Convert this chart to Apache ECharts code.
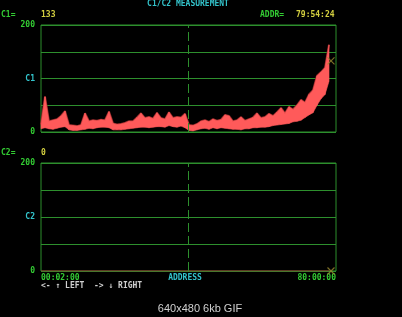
<!DOCTYPE html>
<html><head><meta charset="utf-8">
<script src="https://cdn.jsdelivr.net/npm/echarts@6/dist/echarts.min.js"></script>
<style>html,body{margin:0;padding:0;background:#000;}#c{width:402px;height:317px;}</style>
</head><body><div id="c"></div>
<script>
// C1 trace envelope: lower and upper edge of the noisy trace, one pair per sample (0..72)
var c1Low = [
  6, 8, 6, 5, 7, 9, 10, 4, 3, 3,
  4, 5, 7, 6, 8, 9, 9, 8, 4, 4,
  4, 5, 6, 7, 8, 9, 9, 8, 9, 10,
  10, 9, 12, 10, 9, 11, 8, 3, 2, 4,
  6, 7, 5, 8, 6, 8, 7, 6, 5, 5,
  4, 6, 6, 8, 8, 9, 9, 10, 12, 13,
  14, 15, 16, 19, 20, 22, 27, 32, 36, 50,
  62, 70, 95
];
var c1High = [
  14, 66, 20, 22, 24, 30, 39, 13, 12, 11,
  13, 35, 20, 22, 21, 23, 22, 38, 16, 14,
  15, 17, 20, 20, 27, 35, 26, 28, 25, 36,
  26, 24, 37, 26, 28, 27, 34, 13, 12, 15,
  20, 22, 19, 24, 21, 23, 32, 30, 20, 22,
  28, 21, 24, 27, 35, 26, 28, 34, 30, 37,
  45, 35, 47, 42, 50, 60, 55, 70, 78, 105,
  112, 120, 163
];
// C2 trace (flat at zero)
var c2Index = [0, 18, 36, 54, 72];
var c2 = [0, 0, 0, 0, 0];
var yTicks = [0, 50, 100, 150, 200];
var c1Reading = 133;
var c2Reading = 0;
var cursorIndex = 72.5;
var addrReading = '79:54:24';
var addrStart = '00:02:00';
var addrEnd = '80:00:00';

var GREEN = '#33cc33', CYAN = '#33c4cc', YELLOW = '#d4d040', GRID = '#2d8f2d';
var FONT = 'DejaVu Sans Mono';
var XMAX = 73.75;

var bandData = [];
for (var i = 0; i < c1Low.length - 1; i++) {
  bandData.push([i, c1Low[i], c1High[i], c1Low[i + 1], c1High[i + 1]]);
}
var highData = c1High.map(function(v, i){ return [i, v]; });
var c2Data = c2.map(function(v, i){ return [c2Index[i], v]; });
var xPath = 'path://M0,0L10,10M10,0L0,10';

function yAx(gi, name){
  return {
    type: 'value', gridIndex: gi, min: 0, max: 200, interval: 50,
    axisLine: {show: false}, axisTick: {show: false},
    splitLine: {show: true, lineStyle: {color: GRID, width: 1}},
    axisLabel: {
      margin: 6, fontFamily: FONT, fontSize: 8, fontWeight: 'bold',
      formatter: function(v){
        if (v === 200 || v === 0) return '{g|' + v + '}';
        if (v === 100) return '{c|' + name + '}';
        return '';
      },
      rich: {
        g: {color: GREEN, fontFamily: FONT, fontSize: 8, fontWeight: 'bold'},
        c: {color: CYAN, fontFamily: FONT, fontSize: 8, fontWeight: 'bold'}
      }
    }
  };
}
function xAx(gi){
  return {
    type: 'value', gridIndex: gi, min: 0, max: XMAX,
    axisLine: {show: false}, axisTick: {show: false},
    axisLabel: {show: false}, splitLine: {show: false}
  };
}
var centerLine = {
  silent: true, symbol: 'none', label: {show: false},
  lineStyle: {color: GRID, type: [9, 4], width: 1},
  data: [{xAxis: XMAX / 2}]
};
function txt(x, y, s, color, align){
  return {type: 'text', x: x, y: y,
    style: {text: s, fill: color, font: 'bold 8px "' + FONT + '"',
      textAlign: align || 'left', textVerticalAlign: 'middle'}};
}
var markerStyle = {color: 'none', borderColor: '#9a8a30', borderWidth: 1.2};

var chart = echarts.init(document.getElementById('c'), null, {renderer: 'canvas'});
chart.setOption({
  backgroundColor: '#000',
  animation: false,
  grid: [
    {left: 41, top: 25, width: 295, height: 107, show: true, borderColor: GRID, borderWidth: 1},
    {left: 41, top: 163, width: 295, height: 108, show: true, borderColor: GRID, borderWidth: 1}
  ],
  xAxis: [xAx(0), xAx(1)],
  yAxis: [yAx(0, 'C1'), yAx(1, 'C2')],
  series: [
    {type: 'line', xAxisIndex: 0, yAxisIndex: 0, data: highData, showSymbol: false,
     lineStyle: {color: '#8a2626', width: 2}, markLine: centerLine, z: 2},
    {type: 'custom', xAxisIndex: 0, yAxisIndex: 0, data: bandData, z: 3,
     encode: {x: 0, y: [1, 2, 3, 4]},
     renderItem: function(params, api){
       var x0 = api.value(0), x1 = x0 + 1;
       var a = api.coord([x0, api.value(1)]), b = api.coord([x1, api.value(3)]);
       var c = api.coord([x1, api.value(4)]), d = api.coord([x0, api.value(2)]);
       return {type: 'polygon', shape: {points: [a, b, c, d]},
         style: {fill: '#ff5a5a', stroke: '#ff5a5a', lineWidth: 0.6}};
     }},
    {type: 'line', xAxisIndex: 1, yAxisIndex: 1, data: c2Data, showSymbol: false,
     lineStyle: {color: '#a03030', width: 1}, markLine: centerLine, z: 3},
    {type: 'scatter', xAxisIndex: 0, yAxisIndex: 0, data: [[cursorIndex, c1Reading]], symbol: xPath,
     symbolSize: 7, itemStyle: markerStyle, z: 5},
    {type: 'scatter', xAxisIndex: 1, yAxisIndex: 1, data: [[cursorIndex, c2Reading]], symbol: xPath,
     symbolSize: 7, itemStyle: markerStyle, z: 5}
  ],
  graphic: [
    txt(188, 4, 'C1/C2 MEASUREMENT', CYAN, 'center'),
    txt(1, 15, 'C1=', GREEN),
    txt(41, 15, String(c1Reading), YELLOW),
    txt(260, 15, 'ADDR=', GREEN),
    txt(296, 15, addrReading, YELLOW),
    txt(1, 153, 'C2=', GREEN),
    txt(41, 153, String(c2Reading), YELLOW),
    txt(41, 277.5, addrStart, GREEN),
    txt(185, 277.5, 'ADDRESS', CYAN, 'center'),
    txt(336, 277.5, addrEnd, GREEN, 'right'),
    txt(41, 285.5, '<- \u2191 LEFT  -> \u2193 RIGHT', '#d0d0d0'),
    {type: 'text', x: 200, y: 309,
     style: {text: '640x480 6kb GIF', fill: '#d0d0d0', font: '11px "Liberation Sans"',
       textAlign: 'center', textVerticalAlign: 'middle'}}
  ]
});
</script></body></html>
